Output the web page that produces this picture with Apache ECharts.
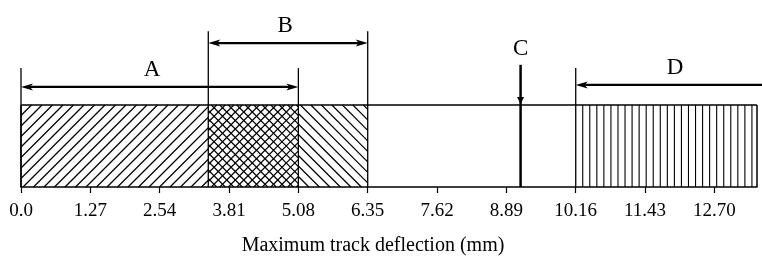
<!DOCTYPE html>
<html>
<head>
<meta charset="utf-8">
<script src="https://cdn.jsdelivr.net/npm/echarts@6/dist/echarts.min.js"></script>
<style>
html, body { margin: 0; padding: 0; background: #fff; }
#main { width: 762px; height: 257px; }
</style>
</head>
<body>
<div id="main"></div>
<script>
// axis ticks (mm)
var tickValues = [0, 1.27, 2.54, 3.81, 5.08, 6.35, 7.62, 8.89, 10.16, 11.43, 12.70];
var tickLabels = ['0.0', '1.27', '2.54', '3.81', '5.08', '6.35', '7.62', '8.89', '10.16', '11.43', '12.70'];
var axisMax = 13.48;

// hatched blocks of the bar
var segStart = [0, 3.43, 5.08, 10.16];
var segEnd = [3.43, 5.08, 6.35, 13.48];
var segHatch = ['fwd', 'cross', 'back', 'vert'];

// ranges A, B, D (arrow height and bracket top in bar heights)
var rangeNames = ['A', 'B', 'D'];
var rangeStart = [0, 3.43, 10.16];
var rangeEnd = [5.08, 6.35, 13.7];
var rangeLevel = [1.22, 1.755, 1.245];
var rangeTop = [1.45, 1.90, 1.45];
var rangeLabelX = [2.40, 4.84, 11.98];
var rangeHeads = ['both', 'both', 'left'];

// single value C
var cName = 'C';
var cValue = 9.15;
var cTop = 1.49;

var FONT = '"Liberation Serif", "Times New Roman", serif';
var myChart = echarts.init(document.getElementById('main'));

function line(x1, y1, x2, y2, w) {
	return { type: 'line', shape: { x1: x1, y1: y1, x2: x2, y2: y2 }, style: { stroke: '#000', lineWidth: w } };
}

function head(tx, ty, dir) {
	// dir -1 : pointing left, 1 : pointing right
	var L = 12, W = 3.5, N = 3;
	return {
		type: 'polygon',
		shape: { points: [[tx, ty], [tx - dir * L, ty - W], [tx - dir * (L - N), ty], [tx - dir * L, ty + W]] },
		style: { fill: '#000' }
	};
}

//hatch inside one block
function renderSeg(params, api) {
	var i = params.dataIndex;
	var p0 = api.coord([api.value(0), 1]);
	var p1 = api.coord([api.value(1), 0]);
	var x0 = p0[0], y0 = p0[1], x1 = p1[0], y1 = p1[1];
	var h = y1 - y0;
	var kids = [];
	var kind = segHatch[i];
	var c, t0, t1;
	if (kind == 'vert') {
		for (c = x0 + 7; c < x1 - 2; c += 7.05) {
			kids.push(line(c, y0, c, y1, 1.1));
		}
	}
	if (kind == 'fwd' || kind == 'cross') {
		var s = kind == 'cross' ? 8.5 : 10.5;
		for (c = x0 - h; c < x1; c += s) {
			t0 = Math.max(0, x0 - c); t1 = Math.min(h, x1 - c);
			if (t1 > t0) kids.push(line(c + t0, y1 - t0, c + t1, y1 - t1, 1.2));
		}
	}
	if (kind == 'back' || kind == 'cross') {
		var s2 = kind == 'cross' ? 8.5 : 10.5;
		for (c = x0 - h; c < x1; c += s2) {
			t0 = Math.max(0, x0 - c); t1 = Math.min(h, x1 - c);
			if (t1 > t0) kids.push(line(c + t0, y0 + t0, c + t1, y0 + t1, 1.2));
		}
	}
	return { type: 'group', children: kids };
}

//outline of the bar
function renderBox(params, api) {
	var a = api.coord([api.value(0), 1]);
	var b = api.coord([api.value(1), 0]);
	return {
		type: 'group',
		children: [
			line(a[0], a[1], b[0], a[1], 1.5),
			line(a[0], a[1], a[0], b[1], 1.5),
			line(b[0], a[1], b[0], b[1], 1.5)
		]
	};
}

//range brackets with arrows
function renderRange(params, api) {
	var i = params.dataIndex;
	var s = api.coord([api.value(0), api.value(2)]);
	var e = api.coord([api.value(1), api.value(2)]);
	var base = api.coord([api.value(0), 0]);
	var top = api.coord([api.value(0), api.value(3)]);
	var kids = [];
	kids.push(line(s[0], base[1], s[0], top[1], 1.3));
	if (rangeHeads[i] == 'both') {
		kids.push(line(e[0], base[1], e[0], top[1], 1.3));
	}
	kids.push(line(s[0] + 6, s[1], (rangeHeads[i] == 'both' ? e[0] - 6 : e[0]), s[1], 2.3));
	kids.push(head(s[0], s[1], -1));
	if (rangeHeads[i] == 'both') kids.push(head(e[0], e[1], 1));
	var lp = api.coord([rangeLabelX[i], api.value(2)]);
	kids.push({
		type: 'text',
		style: { text: rangeNames[i], x: lp[0], y: lp[1] - 17, align: 'center', verticalAlign: 'middle', font: '23px ' + FONT, fill: '#000' }
	});
	return { type: 'group', children: kids };
}

//marker C
function renderC(params, api) {
	var base = api.coord([api.value(0), 0]);
	var top = api.coord([api.value(0), api.value(1)]);
	var bar = api.coord([api.value(0), 1]);
	var x = base[0];
	return {
		type: 'group',
		children: [
			line(x, base[1], x, top[1], 2.5),
			{ type: 'polygon', shape: { points: [[x, bar[1] - 1], [x - 3.5, bar[1] - 8], [x + 3.5, bar[1] - 8]] }, style: { fill: '#000' } },
			{ type: 'text', style: { text: cName, x: x, y: top[1] - 16, align: 'center', verticalAlign: 'middle', font: '23px ' + FONT, fill: '#000' } }
		]
	};
}

var segData = [];
for (var i = 0; i < segStart.length; i++) segData.push([segStart[i], segEnd[i]]);
var rangeData = [];
for (var j = 0; j < rangeNames.length; j++) rangeData.push([rangeStart[j], rangeEnd[j], rangeLevel[j], rangeTop[j]]);

option = {
	animation: false,
	grid: { left: 21, right: 5, top: 23, bottom: 70, outerBoundsMode: 'none', containLabel: false },
	xAxis: {
		type: 'value',
		min: 0,
		max: axisMax,
		name: 'Maximum track deflection (mm)',
		nameLocation: 'middle',
		nameGap: 49,
		nameTextStyle: { fontFamily: FONT, fontSize: 20, color: '#000', padding: [0, 32, 0, 0] },
		axisLine: { lineStyle: { color: '#000', width: 1.5 } },
		axisTick: { customValues: tickValues, length: 6, lineStyle: { color: '#000', width: 1.2 } },
		axisLabel: {
			customValues: tickValues,
			margin: 15,
			fontFamily: FONT,
			fontSize: 19,
			color: '#000',
			formatter: function (v) {
				for (var k = 0; k < tickValues.length; k++) {
					if (Math.abs(tickValues[k] - v) < 1e-6) return tickLabels[k];
				}
				return '';
			}
		},
		splitLine: { show: false }
	},
	yAxis: { type: 'value', min: 0, max: 2, show: false },
	series: [
		{ type: 'custom', renderItem: renderSeg, data: segData, silent: true },
		{ type: 'custom', renderItem: renderBox, data: [[0, axisMax]], silent: true },
		{ type: 'custom', renderItem: renderRange, data: rangeData, silent: true },
		{ type: 'custom', renderItem: renderC, data: [[cValue, cTop]], silent: true }
	]
};
myChart.setOption(option);
</script>
</body>
</html>
